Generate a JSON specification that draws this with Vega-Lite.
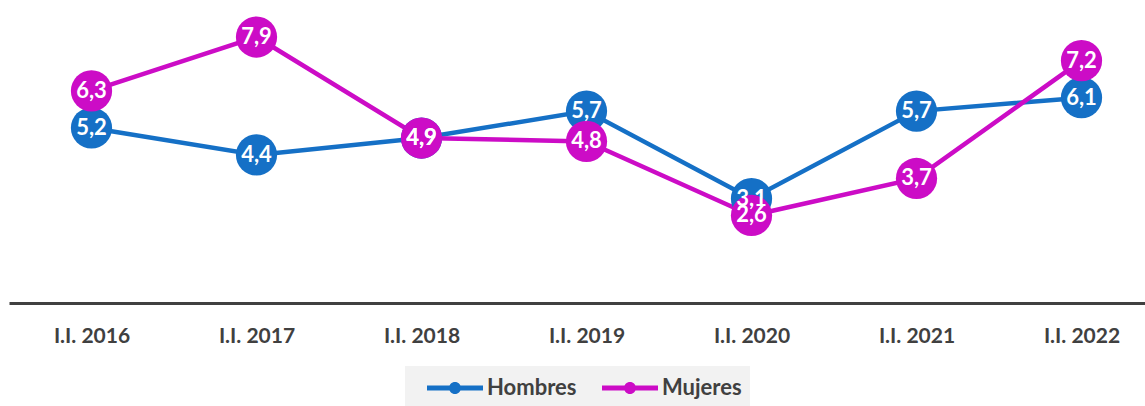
{
  "$schema": "https://vega.github.io/schema/vega-lite/v6.json",
  "autosize": "none",
  "width": 1155,
  "height": 303,
  "padding": {"left": 9, "top": 0, "right": 0, "bottom": 103},
  "background": "white",
  "config": {
    "view": {"stroke": null},
    "font": "Lato",
    "locale": {"number": {"decimal": ",", "thousands": ".", "grouping": [3], "currency": ["", " €"]}}
  },
  "data": {
    "values": [
      {"periodo": "I.I. 2016", "serie": "Hombres", "valor": 5.2},
      {"periodo": "I.I. 2017", "serie": "Hombres", "valor": 4.4},
      {"periodo": "I.I. 2018", "serie": "Hombres", "valor": 4.9},
      {"periodo": "I.I. 2019", "serie": "Hombres", "valor": 5.7},
      {"periodo": "I.I. 2020", "serie": "Hombres", "valor": 3.1},
      {"periodo": "I.I. 2021", "serie": "Hombres", "valor": 5.7},
      {"periodo": "I.I. 2022", "serie": "Hombres", "valor": 6.1},
      {"periodo": "I.I. 2016", "serie": "Mujeres", "valor": 6.3},
      {"periodo": "I.I. 2017", "serie": "Mujeres", "valor": 7.9},
      {"periodo": "I.I. 2018", "serie": "Mujeres", "valor": 4.9},
      {"periodo": "I.I. 2019", "serie": "Mujeres", "valor": 4.8},
      {"periodo": "I.I. 2020", "serie": "Mujeres", "valor": 2.6},
      {"periodo": "I.I. 2021", "serie": "Mujeres", "valor": 3.7},
      {"periodo": "I.I. 2022", "serie": "Mujeres", "valor": 7.2}
    ]
  },
  "encoding": {
    "x": {
      "field": "periodo", "type": "ordinal", "sort": null,
      "scale": {"type": "point", "padding": 0.5},
      "axis": {
        "title": null, "orient": "bottom", "labelAngle": 0,
        "domainColor": "#404040", "domainWidth": 3, "ticks": false,
        "labelFont": "Lato", "labelFontWeight": "bold", "labelFontSize": 21,
        "labelColor": "#404040", "labelPadding": 22, "grid": false
      }
    },
    "y": {
      "field": "valor", "type": "quantitative",
      "scale": {"domain": [0, 9], "nice": false, "zero": true},
      "axis": null
    },
    "color": {
      "field": "serie", "type": "nominal",
      "scale": {"domain": ["Hombres", "Mujeres"], "range": ["#1570C6", "#CC0CC6"]},
      "legend": {
        "title": "\u00a0", "titleOrient": "left", "titlePadding": 14, "titleFontSize": 22,
        "orient": "none", "direction": "horizontal",
        "legendX": 396, "legendY": 366,
        "fillColor": "#f2f2f2", "padding": 8,
        "symbolType": "M-2,-0.18H2V0.18H-2Z M0.43,0A0.43,0.43 0 1,1 -0.43,0A0.43,0.43 0 1,1 0.43,0Z",
        "symbolSize": 784, "symbolStrokeWidth": 0, "symbolOffset": 14,
        "labelOffset": 18,
        "labelFont": "Lato", "labelFontWeight": "bold", "labelFontSize": 22,
        "labelColor": "#404040", "columnPadding": 25
      }
    }
  },
  "layer": [
    {
      "mark": {"type": "line", "strokeWidth": 4.5}
    },
    {
      "mark": {"type": "point", "filled": true, "opacity": 1, "size": 1700, "shape": "circle"}
    },
    {
      "mark": {"type": "text", "fontWeight": "bold", "fontSize": 22, "font": "Lato", "baseline": "middle", "align": "center"},
      "encoding": {
        "text": {"field": "valor", "type": "quantitative", "format": ".1f"},
        "color": {"value": "white"}
      }
    }
  ]
}
